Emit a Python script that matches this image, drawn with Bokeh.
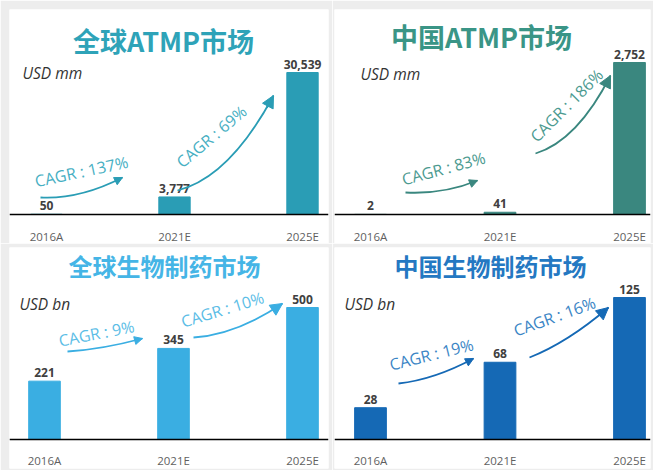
from bokeh.plotting import figure
from bokeh.layouts import gridplot
from bokeh.models import Span, Arrow, NormalHead
from bokeh.core.properties import value
from bokeh.embed import file_html
from bokeh.resources import INLINE

# ---------------- data ----------------
years = ["2016A", "2021E", "2025E"]

global_atmp = [50, 3777, 30539]
china_atmp = [2, 41, 2752]
global_bio = [221, 345, 500]
china_bio = [28, 68, 125]

global_atmp_cagr = ["CAGR : 137%", "CAGR : 69%"]
china_atmp_cagr = ["CAGR : 83%", "CAGR : 186%"]
global_bio_cagr = ["CAGR : 9%", "CAGR : 10%"]
china_bio_cagr = ["CAGR : 19%", "CAGR : 16%"]

titles = ["全球ATMP市场", "中国ATMP市场", "全球生物制药市场", "中国生物制药市场"]
units = ["USD mm", "USD mm", "USD bn", "USD bn"]

LATIN = "Open Sans"
CJK = "Noto Sans CJK SC"
GAP = "#ededed"


def panel(title, unit, vals, cagr, colors, g):
    bar_c, title_c, cagr_c = colors
    fx, fy, w, h = g["fig"]
    ml, mr, mt, mb = g["mb"]
    fl, fr = fx + ml, fx + w - mr
    ft, fb = fy + mt, fy + h - mb
    c0, sx = g["c0"], g["sx"]
    base, barpx = g["base"], g["barpx"]
    k = max(vals) / barpx

    def X(px):
        return (px - c0) / sx

    def Y(py):
        return (base - py) * k

    p = figure(width=w, height=h, output_backend="svg", toolbar_location=None,
               x_range=(X(fl), X(fr)), y_range=(Y(fb), Y(ft)),
               x_axis_location=None, y_axis_location=None,
               min_border_left=ml, min_border_right=mr,
               min_border_top=mt, min_border_bottom=mb,
               background_fill_color="white", border_fill_color=GAP)
    p.grid.visible = False
    p.outline_line_color = None

    idx = list(range(len(years)))
    p.vbar(x=idx, top=vals, width=0.245, bottom=0, color=bar_c)
    p.add_layout(Span(location=0, dimension="width", line_color="black", line_width=1.6))

    p.text(x=idx, y=vals, text=[f"{v:,}" for v in vals], text_align="center",
           text_baseline="bottom", y_offset=-4, text_color="#404040",
           text_font=value(LATIN), text_font_style="bold", text_font_size=value("12px"))
    p.text(x=idx, y=[0] * 3, text=years, text_align="center", text_baseline="middle",
           y_offset=g["lab"], text_color="#5f5f5f", text_font=value(LATIN),
           text_font_style="normal", text_font_size=value("11.5px"))

    tx, ty, tsize = g["title"]
    p.text(x=[X(tx)], y=[Y(ty)], text=[title], text_align="center", text_baseline="middle",
           text_color=title_c, text_font=value(CJK), text_font_style="bold",
           text_font_size=value(tsize))
    ux, uy = g["unit"]
    p.text(x=[X(ux)], y=[Y(uy)], text=[unit], text_align="left", text_baseline="middle",
           text_color="#333333", text_font=value(LATIN), text_font_style="italic",
           text_font_size=value("15.5px"))

    for lab, (cx, cy, ang), (s, c, e, hs) in zip(cagr, g["texts"], g["arrows"]):
        p.text(x=[X(cx)], y=[Y(cy)], text=[lab], angle=ang, angle_units="deg",
               text_align="center", text_baseline="middle", text_color=cagr_c,
               text_font=value(LATIN), text_font_size=value("16px"))
        p.quadratic(x0=[X(s[0])], y0=[Y(s[1])], x1=[X(e[0])], y1=[Y(e[1])],
                    cx=[X(c[0])], cy=[Y(c[1])], line_color=bar_c, line_width=1.8)
        bx = e[0] - 0.15 * (e[0] - c[0])
        by = e[1] - 0.15 * (e[1] - c[1])
        p.add_layout(Arrow(end=NormalHead(size=hs, fill_color=bar_c, line_color=bar_c),
                           x_start=X(bx), y_start=Y(by), x_end=X(e[0]), y_end=Y(e[1]),
                           line_color=bar_c, line_width=1.8))
    return p


g_tl = dict(fig=(0, 0, 332, 243), mb=(9, 4, 9, 0), c0=46, sx=128, base=214, barpx=142,
            lab=22, title=(163, 40, "27px"), unit=(22, 72),
            texts=[(81, 171, 12), (211, 136, 40)],
            arrows=[((40, 197), (79, 199), (122, 177), 8),
                    ((177, 190), (229, 177), (273, 95), 12)])
g_tr = dict(fig=(332, 0, 321, 243), mb=(2, 3, 9, 0), c0=370, sx=129.5, base=214, barpx=152,
            lab=22, title=(481, 36, "27px"), unit=(360, 73),
            texts=[(443, 168, 15), (566, 105, 45)],
            arrows=[((405, 192), (443, 194), (477, 180), 8),
                    ((535, 153), (577, 140), (610, 75), 12)])
g_bl = dict(fig=(0, 243, 332, 227), mb=(9, 4, 4, 2), c0=44, sx=129, base=439, barpx=132,
            lab=21, title=(164, 265, "24px"), unit=(19, 303),
            texts=[(96, 333, 11), (222, 309, 17)],
            arrows=[((67, 351), (101, 349), (142, 338), 8),
                    ((193, 337), (236, 334), (282, 303), 12)])
g_br = dict(fig=(332, 243, 321, 227), mb=(2, 3, 4, 2), c0=370, sx=129.5, base=439, barpx=142,
            lab=21, title=(490, 265, "24px"), unit=(344, 303),
            texts=[(431, 354, 14), (554, 316, 20)],
            arrows=[((398, 383), (434, 379), (473, 358), 8),
                    ((529, 357), (567, 342), (608, 307), 12)])

p1 = panel(titles[0], units[0], global_atmp, global_atmp_cagr,
           ("#2a9db5", "#2ea3b8", "#47afc3"), g_tl)
p2 = panel(titles[1], units[1], china_atmp, china_atmp_cagr,
           ("#3a877f", "#3a9586", "#4c9a90"), g_tr)
p3 = panel(titles[2], units[2], global_bio, global_bio_cagr,
           ("#3aaee2", "#45b5e6", "#5bbde6"), g_bl)
p4 = panel(titles[3], units[3], china_bio, china_bio_cagr,
           ("#1569b5", "#2478c2", "#3a85c5"), g_br)

layout = gridplot([[p1, p2], [p3, p4]], toolbar_location=None)
open("out.html", "w").write(file_html(layout, INLINE))
